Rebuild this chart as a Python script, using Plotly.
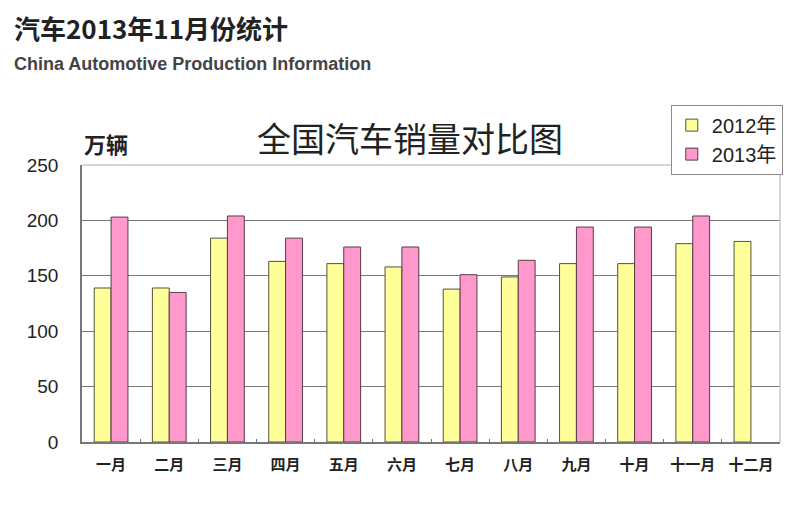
import plotly.graph_objects as go

months = ["一月", "二月", "三月", "四月", "五月", "六月",
          "七月", "八月", "九月", "十月", "十一月", "十二月"]
sales_2012 = [139, 139, 184, 163, 161, 158, 138, 149, 161, 161, 179, 181]
sales_2013 = [203, 135, 204, 184, 176, 176, 151, 164, 194, 194, 204, None]
y_ticks = [0, 50, 100, 150, 200, 250]

fig = go.Figure()
fig.add_trace(go.Bar(
    x=months, y=sales_2012, name="2012年",
    marker=dict(color="#FFFF99", line=dict(color="#55503a", width=1)),
))
fig.add_trace(go.Bar(
    x=months, y=sales_2013, name="2013年",
    marker=dict(color="#FF99CC", line=dict(color="#5a3a48", width=1)),
))

cjk = "Noto Sans CJK SC"

fig.update_layout(
    width=800, height=509,
    margin=dict(l=82, r=20, t=165, b=67),
    paper_bgcolor="white", plot_bgcolor="white",
    barmode="group", bargap=0.42, bargroupgap=0,
    showlegend=True,
    legend=dict(
        x=1.004, xanchor="right", y=1.218, yanchor="top",
        bgcolor="white", bordercolor="#8a8a8a", borderwidth=1,
        font=dict(family="Arial, Liberation Sans, " + cjk, size=20, color="#222"),
        itemwidth=30, tracegroupgap=2,
    ),
    xaxis=dict(
        type="category",
        showline=True, linecolor="#777", linewidth=1.5,
        ticks="inside", tickson="boundaries", ticklen=3, tickcolor="#777",
        ticklabelstandoff=8,
        tickfont=dict(family=cjk, size=15, color="#222", weight="bold"),
        showgrid=False,
    ),
    yaxis=dict(
        range=[0, 250], tickvals=y_ticks,
        showline=True, linecolor="#777", linewidth=1.5,
        showgrid=True, gridcolor="#7a7a7a", gridwidth=1,
        zeroline=False,
        ticks="", ticklabelstandoff=18,
        tickfont=dict(family="Arial, Liberation Sans", size=19, color="#222"),
    ),
    font=dict(family=cjk),
)

# light frame along the top and right of the plotting area
fig.add_shape(type="line", xref="paper", yref="paper", x0=0, x1=1, y0=1, y1=1,
              line=dict(color="#c8c8c8", width=1.5), layer="above")
fig.add_shape(type="line", xref="paper", yref="paper", x0=1, x1=1, y0=0, y1=1,
              line=dict(color="#c8c8c8", width=1.5), layer="above")

fig.add_annotation(text="全国汽车销量对比图", xref="paper", yref="paper",
                   x=0.47, y=1.101, xanchor="center", yanchor="middle",
                   showarrow=False, font=dict(family=cjk, size=34, color="#222"))
fig.add_annotation(text="<b>万辆</b>", xref="paper", yref="paper",
                   x=0.0, y=1.08, xanchor="left", yanchor="middle",
                   showarrow=False, font=dict(family=cjk, size=22, color="#222"))
fig.add_annotation(text="<b>汽车2013年11月份统计</b>", xref="paper", yref="paper",
                   x=-0.1003, y=1.495, xanchor="left", yanchor="middle",
                   showarrow=False, font=dict(family=cjk, size=26, color="#222"))
fig.add_annotation(text="<b>China Automotive Production Information</b>",
                   xref="paper", yref="paper",
                   x=-0.1003, y=1.365, xanchor="left", yanchor="middle",
                   showarrow=False,
                   font=dict(family="Arial, Liberation Sans", size=18, color="#444"))

fig.write_html("out.html")
